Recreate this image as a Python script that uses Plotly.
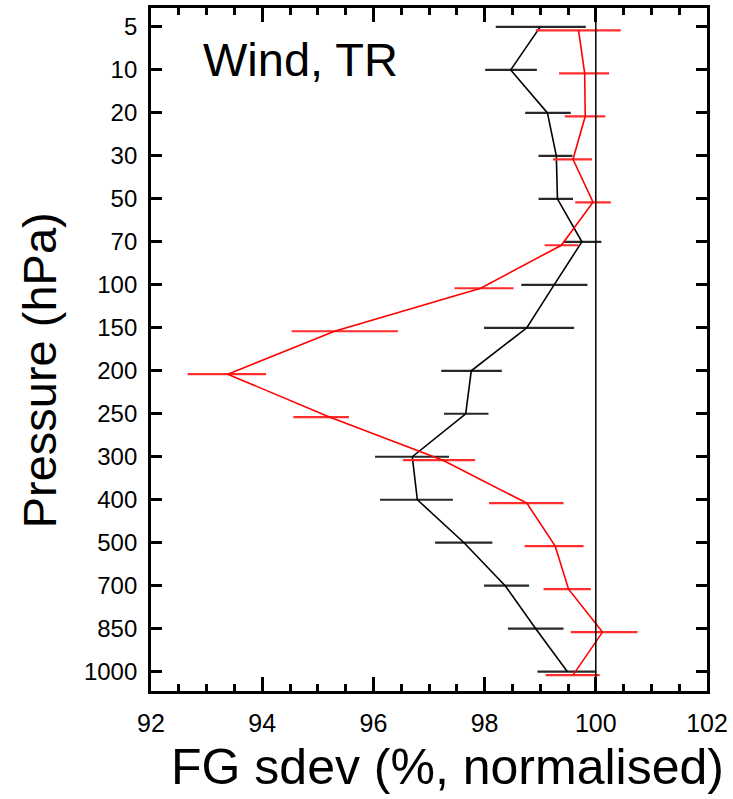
import plotly.graph_objects as go

levels = ["5", "10", "20", "30", "50", "70", "100", "150", "200", "250", "300", "400", "500", "700", "850", "1000"]

black_x = [99.00, 98.47, 99.13, 99.29, 99.31, 99.75, 99.25, 98.76, 97.76, 97.66, 96.70, 96.79, 97.63, 98.37, 98.92, 99.49]
black_lo = [98.20, 98.01, 98.73, 98.97, 98.97, 99.42, 98.66, 97.99, 97.22, 97.27, 96.03, 96.12, 97.11, 97.99, 98.42, 98.95]
black_hi = [99.82, 98.94, 99.55, 99.58, 99.59, 100.10, 99.85, 99.61, 98.31, 98.07, 97.36, 97.43, 98.14, 98.80, 99.42, 100.01]

red_x = [99.69, 99.80, 99.81, 99.59, 99.95, 99.38, 97.93, 95.30, 93.38, 95.22, 97.25, 98.76, 99.27, 99.51, 100.12, 99.59]
red_lo = [98.92, 99.34, 99.44, 99.23, 99.63, 99.08, 97.46, 94.53, 92.66, 94.56, 96.53, 98.08, 98.72, 99.06, 99.55, 99.10]
red_hi = [100.45, 100.24, 100.17, 99.93, 100.27, 99.69, 98.52, 96.44, 94.07, 95.56, 97.83, 99.42, 99.78, 99.91, 100.75, 100.07]

RED_OFFSET = 0.08
FONT = "Liberation Sans"

idx = list(range(len(levels)))

fig = go.Figure()

fig.add_trace(go.Scatter(
    x=black_x, y=idx, mode="lines",
    line=dict(color="black", width=1.6),
    error_x=dict(type="data", symmetric=False,
                 array=[h - c for h, c in zip(black_hi, black_x)],
                 arrayminus=[c - l for c, l in zip(black_x, black_lo)],
                 color="rgb(40,40,40)", thickness=2.2, width=0),
    showlegend=False, hoverinfo="skip"))

fig.add_trace(go.Scatter(
    x=red_x, y=[i + RED_OFFSET for i in idx], mode="lines",
    line=dict(color="rgb(255,0,0)", width=1.6),
    error_x=dict(type="data", symmetric=False,
                 array=[h - c for h, c in zip(red_hi, red_x)],
                 arrayminus=[c - l for c, l in zip(red_x, red_lo)],
                 color="rgb(255,45,45)", thickness=2.2, width=0),
    showlegend=False, hoverinfo="skip"))

fig.add_shape(type="line", x0=100, x1=100, xref="x", y0=0, y1=1, yref="paper",
              line=dict(color="black", width=1.5))

fig.update_layout(
    width=733, height=799,
    margin=dict(l=151, r=26, t=5, b=108, pad=0),
    paper_bgcolor="white", plot_bgcolor="white",
    font=dict(family=FONT, color="black"),
    xaxis=dict(range=[92, 102], tickmode="linear", tick0=92, dtick=2,
               ticks="inside", ticklen=14, tickwidth=2.5, tickcolor="black",
               minor=dict(tickmode="linear", dtick=0.5, tick0=92, ticks="inside", ticklen=7,
                          tickwidth=2.5, tickcolor="black", showgrid=False),
               showline=True, linewidth=2.8, linecolor="black", mirror="ticks",
               showgrid=False, zeroline=False,
               tickfont=dict(size=25, family=FONT, color="black"),
               ticklabelstandoff=8),
    yaxis=dict(range=[15.45, -0.44], tickvals=idx, ticktext=levels,
               ticks="inside", ticklen=11, tickwidth=2.5, tickcolor="black",
               showline=True, linewidth=2.8, linecolor="black", mirror="ticks",
               showgrid=False, zeroline=False,
               tickfont=dict(size=24, family=FONT, color="black"),
               ticklabelstandoff=6),
    annotations=[
        dict(text="Wind, TR", x=0.09, y=0.925, xref="paper", yref="paper",
             xanchor="left", yanchor="middle", showarrow=False,
             font=dict(size=47, family=FONT, color="black")),
        dict(text="FG sdev (%, normalised)", x=0.533, y=-0.111, xref="paper", yref="paper",
             xanchor="center", yanchor="middle", showarrow=False,
             font=dict(size=50, family=FONT, color="black")),
        dict(text="Pressure (hPa)", x=-0.199, y=0.47, xref="paper", yref="paper",
             xanchor="center", yanchor="middle", showarrow=False, textangle=-90,
             font=dict(size=47, family=FONT, color="black")),
    ],
)

fig.write_html("out.html")
